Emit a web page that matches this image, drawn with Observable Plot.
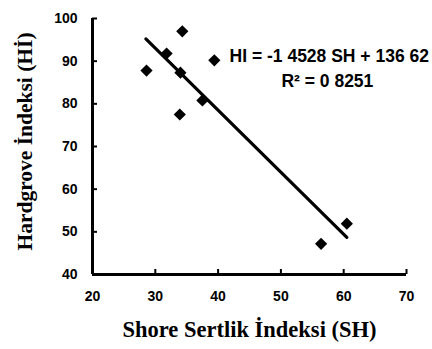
<!DOCTYPE html>
<html><head><meta charset="utf-8">
<script src="https://cdn.jsdelivr.net/npm/d3@7"></script>
<script src="https://cdn.jsdelivr.net/npm/@observablehq/plot@0.6"></script>
<style>body{margin:0;background:#fff;} svg{display:block;}</style>
</head><body><div id="chart"></div>
<script>
const shValues = [28.6, 31.8, 34.3, 34.0, 33.9, 37.5, 39.4, 60.5, 56.4];
const hiValues = [87.8, 91.8, 97.0, 87.3, 77.5, 80.8, 90.2, 51.9, 47.2];
const fitSlope = -1.4528;
const fitIntercept = 136.62;
const fitRange = [28.5, 60.5];
const xTicks = [20, 30, 40, 50, 60, 70];
const yTicks = [40, 50, 60, 70, 80, 90, 100];
const eqLines = ["HI = -1 4528 SH + 136 62", "R² = 0 8251"];
const eqPos = [{x: 57.7, y: 91.2}, {x: 57.4, y: 85.2}];

const points = shValues.map((x, i) => ({x, y: hiValues[i]}));
const fit = fitRange.map(x => ({x, y: fitSlope * x + fitIntercept}));
const eq = eqLines.map((t, i) => ({t, ...eqPos[i]}));

const chart = Plot.plot({
  width: 432, height: 349,
  marginLeft: 92, marginRight: 26, marginTop: 18, marginBottom: 75,
  style: {fontFamily: "Liberation Sans, Arial, sans-serif", background: "#fff", color: "#000"},
  x: {domain: [20, 70]},
  y: {domain: [40, 100]},
  marks: [
    Plot.axisX({ticks: xTicks, tickSize: -5, tickPadding: 22, fontSize: 14, fontWeight: "bold",
      strokeWidth: 2, label: null}),
    Plot.axisY({ticks: yTicks, tickSize: -5, tickPadding: 20, fontSize: 14, fontWeight: "bold",
      strokeWidth: 2, label: null}),
    Plot.ruleX([20], {strokeWidth: 3}),
    Plot.ruleY([40], {strokeWidth: 3}),
    Plot.line(fit, {x: "x", y: "y", strokeWidth: 3.2, stroke: "#000"}),
    Plot.dot(points, {x: "x", y: "y", symbol: "diamond2", r: 5.5, fill: "#000", stroke: "none"}),
    Plot.text(eq, {x: "x", y: "y", text: "t", fontSize: 17.5, fontWeight: "bold", textAnchor: "middle"}),
    Plot.text(["Shore Sertlik İndeksi (SH)"], {frameAnchor: "bottom", dy: 62, fontSize: 22.5,
      fontWeight: "bold", textAnchor: "middle", fontFamily: "Liberation Serif, Times New Roman, serif"}),
    Plot.text(["Hardgrove İndeksi (Hİ)"], {frameAnchor: "left", dx: -67, dy: -5, rotate: -90, fontSize: 21.5,
      fontWeight: "bold", textAnchor: "middle", fontFamily: "Liberation Serif, Times New Roman, serif"})
  ]
});
document.getElementById("chart").append(chart);
</script></body></html>
